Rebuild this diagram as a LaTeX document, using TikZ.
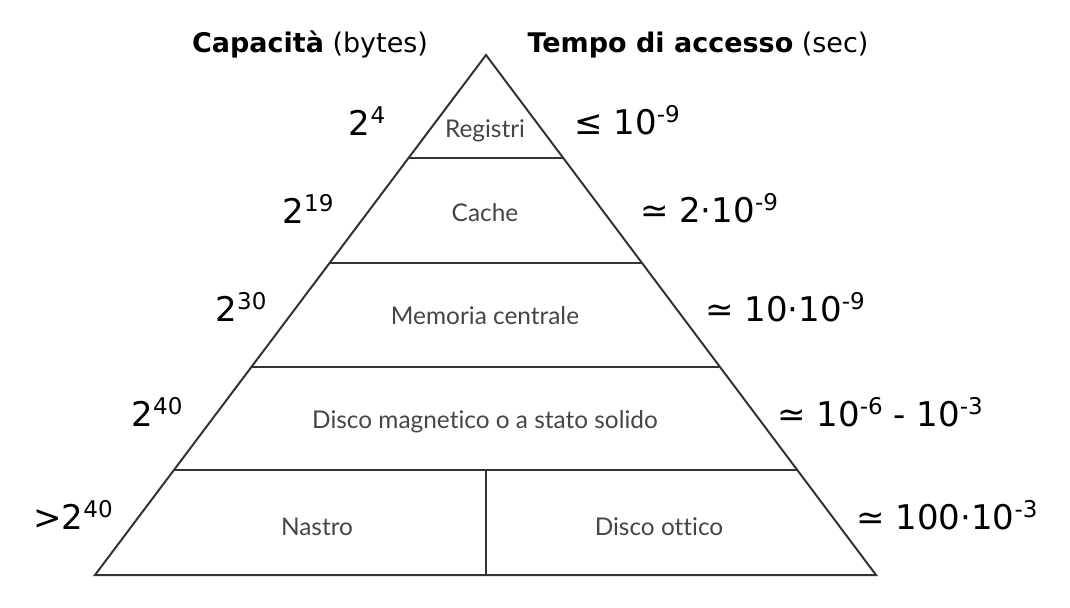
\documentclass[tikz,border=0pt]{standalone}
\usepackage{fontspec}
\setmainfont{DejaVu Sans}
\newfontfamily\innerfont[RawFeature={-liga;-dlig;-clig}]{Lato}
\usetikzlibrary{calc}
\newcommand{\spx}[1]{\raisebox{0.36em}{\fontsize{11.5pt}{12pt}\selectfont #1}}
\definecolor{edge}{HTML}{333333}
\definecolor{inner}{HTML}{454545}
\tikzset{
  hdr/.style={anchor=base, font=\fontsize{13.5pt}{16pt}\selectfont, inner sep=0pt},
  num/.style={anchor=base, font=\fontsize{17pt}{20pt}\selectfont, inner sep=0pt},
  lvl/.style={anchor=base, font=\innerfont\fontsize{12.2pt}{14pt}\selectfont, text=inner, inner sep=0pt},
  pyr/.style={draw=edge, line width=1pt, line join=miter}
}
\begin{document}
\begin{tikzpicture}[x=0.5pt,y=-0.5pt]
\useasboundingbox (0,0) rectangle (1070,608);
\coordinate (A) at (486,55);
\coordinate (BL) at (95,575);
\coordinate (BR) at (876,575);
\foreach \n/\y in {1/158,2/263,3/367,4/470}{
  \coordinate (L\n) at ($(A)!{(\y-55)/520}!(BL)$);
  \coordinate (R\n) at ($(A)!{(\y-55)/520}!(BR)$);
}
\coordinate (M4) at ($(L4)!0.5!(R4)$);
\coordinate (MB) at ($(BL)!0.5!(BR)$);
\draw[pyr] (A) -- (BL) -- (BR) -- cycle;
\draw[pyr] (L1) -- (R1);
\draw[pyr] (L2) -- (R2);
\draw[pyr] (L3) -- (R3);
\draw[pyr] (L4) -- (R4);
\draw[pyr] (486,470) -- (486,575);

\node[hdr] (hcap) at (310,53) {\textbf{Capacità} (bytes)};
\node[hdr] (htime) at (698,53) {\textbf{Tempo di accesso} (sec)};

\node[lvl] (reg) at (485,138) {Registri};
\node[lvl] (cache) at (485,222) {Cache};
\node[lvl] (mem) at (485,325) {Memoria centrale};
\node[lvl] (disk) at (485,429) {Disco magnetico o a stato solido};
\node[lvl] (tape) at (317,535) {Nastro};
\node[lvl] (opt) at (659,535) {Disco ottico};

\node[num] (c1) at (367,136) {2\spx{4}};
\node[num] (c2) at (308,224) {2\spx{19}};
\node[num] (c3) at (241,322) {2\spx{30}};
\node[num] (c4) at (157,427) {2\spx{40}};
\node[num] (c5) at (73,530) {>2\spx{40}};

\node[num] (t1) at (627,135) {≤ 10\spx{-9}};
\node[num] (t2) at (709,223) {≃ 2·10\spx{-9}};
\node[num] (t3) at (785,322) {≃ 10·10\spx{-9}};
\node[num] (t4) at (880,427) {≃ 10\spx{-6} - 10\spx{-3}};
\node[num] (t5) at (947,530) {≃ 100·10\spx{-3}};
\end{tikzpicture}
\end{document}
